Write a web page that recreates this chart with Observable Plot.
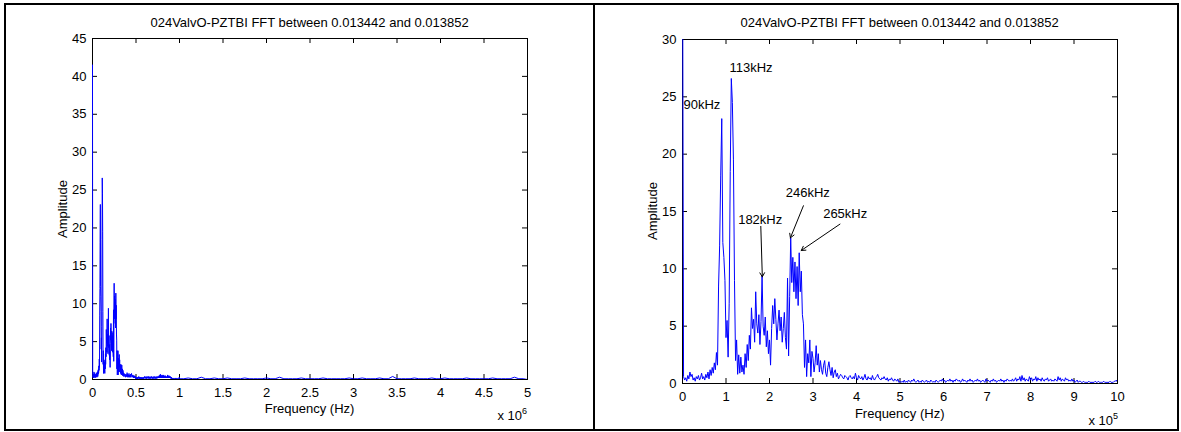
<!DOCTYPE html>
<html><head><meta charset="utf-8">
<script src="https://cdn.jsdelivr.net/npm/d3@7"></script>
<script src="https://cdn.jsdelivr.net/npm/@observablehq/plot@0.6"></script>
<style>
body{margin:0;background:#fff;}
#page{position:relative;width:1181px;height:432px;overflow:hidden;font-family:"Liberation Sans",Arial,Helvetica,sans-serif;background:#fff;color:#000}
.plotwrap{position:absolute;top:0}
.bd{position:absolute;background:#000;z-index:5}
.t{position:absolute;font-size:13px;white-space:nowrap;transform:translate(-50%,-50%);z-index:4}
.exp{position:absolute;font-size:13px;white-space:nowrap;transform:translate(-100%,-50%);z-index:4}
.exp sup{font-size:9px;position:relative;top:-1px}
</style></head><body><div id="page"></div>
<script>
// ---- data ----
const title = "024ValvO-PZTBI FFT between 0.013442 and 0.013852";
const xLabel = "Frequency (Hz)";
const yLabel = "Amplitude";
const binHz = 2439; // FFT bin width (1 / 0.00041 s)
// amplitude per FFT bin, 0 .. 1000 kHz
const ampLow = [
41.5,0.6,0.3,0.5,0.2,0.7,0.4,1.0,0.6,0.8,
0.3,0.5,0.2,0.6,0.4,0.7,0.3,0.5,0.9,0.4,
0.6,0.3,0.8,0.5,1.0,0.4,1.2,0.7,1.4,0.9,
1.8,1.2,2.7,1.6,8.5,12.0,18.1,23.1,12.3,11.0,
9.0,4.0,5.5,2.3,7.0,18.5,26.6,24.5,19.5,9.0,
2.0,3.8,0.8,2.5,0.9,2.3,1.0,1.6,0.8,2.6,
1.4,3.4,2.0,4.2,3.0,6.6,4.8,5.6,3.6,8.0,
5.2,4.4,6.0,3.4,5.4,9.4,5.0,4.2,5.8,3.2,
4.6,2.6,3.8,1.6,4.8,6.8,5.2,7.4,5.6,3.8,
5.2,6.4,4.6,5.8,3.6,4.8,6.2,4.0,3.0,9.2,
2.4,7.6,12.7,8.8,11.0,8.0,10.6,7.4,10.2,6.8,
11.4,8.0,9.8,6.0,5.2,1.4,3.8,0.6,2.6,1.8,
3.8,0.6,2.8,2.2,1.0,1.8,3.3,1.6,2.6,1.0,
2.0,1.2,0.8,1.6,2.0,0.9,0.6,1.4,1.9,1.2,
0.7,1.4,0.5,1.0,1.2,0.6,0.9,0.4,0.6,0.8,
0.7,0.5,0.4,0.7,0.6,0.5,0.3,0.6,0.7,0.5,0.4,
0.6,0.4,0.9,0.5,0.3,0.7,0.5,0.4,0.6,0.3,
0.5,0.8,0.4,0.3,0.6,0.4,0.5,0.3,0.7,0.4,
0.3,0.5,0.6,0.8,0.5,0.4,0.3,0.5,0.4,0.6,
0.4,0.3,0.5,0.2,0.4,0.3,0.5,0.3,0.2,0.4,
0.3,0.2,0.4,0.1,0.2,0.1,0.2,0.1,0.3,0.1,
0.2,0.1,0.3,0.2,0.1,0.3,0.2,0.4,0.2,0.1,
0.2,0.3,0.1,0.2,0.1,0.3,0.2,0.1,0.2,0.3,
0.1,0.2,0.1,0.3,0.2,0.1,0.2,0.1,0.3,0.2,
0.1,0.2,0.3,0.2,0.4,0.2,0.3,0.1,0.2,0.3,
0.2,0.4,0.2,0.3,0.1,0.3,0.2,0.4,0.3,0.2,
0.3,0.1,0.2,0.4,0.2,0.3,0.2,0.1,0.3,0.2,
0.4,0.2,0.3,0.1,0.2,0.3,0.2,0.4,0.2,0.3,
0.1,0.2,0.3,0.2,0.1,0.4,0.2,0.3,0.2,0.1,
0.3,0.2,0.4,0.2,0.3,0.1,0.2,0.3,0.2,0.4,
0.2,0.3,0.1,0.3,0.2,0.4,0.3,0.2,0.3,0.2,
0.4,0.2,0.3,0.5,0.2,0.4,0.3,0.6,0.2,0.7,
0.3,0.5,0.2,0.4,0.3,0.2,0.6,0.3,0.5,0.2,
0.4,0.3,0.6,0.2,0.5,0.3,0.4,0.2,0.5,0.3,
0.2,0.4,0.3,0.5,0.2,0.3,0.4,0.2,0.3,0.2,
0.4,0.3,0.2,0.6,0.3,0.5,0.2,0.4,0.3,0.2,
0.5,0.3,0.4,0.2,0.3,0.2,0.4,0.2,0.3,0.1,
0.2,0.3,0.1,0.2,0.2,0.1,0.1,0.2,0.1,0.1,
0.1,0.1,0.2,0.1,0.1,0.1,0.1,0.1,0.2,0.1,
0.1,0.2,0.1,0.1,0.1,0.1,0.2,0.1,0.1,0.1,
0.1,0.1,0.2,0.1,0.1,0.1,0.2,0.2,0.3,0.1
];
// sparse amplitude samples of the tail, 1.05 .. 5.00 MHz
const tailStartHz = 1050000;
const tailStepHz = 50000;
const ampTail = [
0.1,0.2,0.1,0.1,0.3,0.1,0.1,0.2,0.1,0.1,
0.2,0.1,0.1,0.1,0.2,0.1,0.1,0.1,0.1,0.2,
0.1,0.1,0.3,0.1,0.1,0.1,0.1,0.2,0.1,0.1,
0.1,0.1,0.2,0.1,0.1,0.1,0.1,0.1,0.2,0.1,
0.1,0.2,0.1,0.1,0.1,0.2,0.1,0.1,0.4,0.1,
0.1,0.1,0.1,0.2,0.1,0.1,0.1,0.2,0.1,0.1,
0.2,0.1,0.1,0.1,0.1,0.2,0.1,0.1,0.1,0.1,
0.1,0.2,0.1,0.1,0.1,0.1,0.3,0.1,0.1,0.0
];
// axes ticks
const leftXTicks = [0,500000,1000000,1500000,2000000,2500000,3000000,3500000,4000000,4500000,5000000];
const leftXTickLabels = ["0","0.5","1","1.5","2","2.5","3","3.5","4","4.5","5"];
const leftYTicks = [0,5,10,15,20,25,30,35,40,45];
const rightXTicks = [0,100000,200000,300000,400000,500000,600000,700000,800000,900000,1000000];
const rightXTickLabels = ["0","1","2","3","4","5","6","7","8","9","10"];
const rightYTicks = [0,5,10,15,20,25,30];
const leftExp = "6", rightExp = "5";
// peak annotations (right panel)
const annoText = ["90kHz","113kHz","182kHz","246kHz","265kHz"];
const annoHz =   [2300, 108000, 178600, 288000, 374000];
const annoAmp =  [24.3, 27.55, 14.3, 16.6, 14.8];
const annoAnchor = ["start","start","middle","middle","middle"];
const arrowFromHz = [180000, 278000, 362000];
const arrowFromAmp = [13.7, 15.5, 13.9];
const arrowToHz = [183500, 248000, 273000];
const arrowToAmp = [9.3, 12.7, 11.6];

// ---- build ----
const low = ampLow.map((a, i) => ({f: i * binHz, a}));
const tail = ampTail.map((a, i) => ({f: tailStartHz + i * tailStepHz, a}));
const leftData = low.concat(tail);
const annos = annoText.map((t, i) => ({t, f: annoHz[i], a: annoAmp[i], anchor: annoAnchor[i]}));
const arrows = arrowFromHz.map((d, i) => ({x1: d, y1: arrowFromAmp[i], x2: arrowToHz[i], y2: arrowToAmp[i]}));

const FONT = '"Liberation Sans",Arial,Helvetica,sans-serif';
const BLUE = "#0000ff";

function panel({data, width, height, ml, mr, mt, mb, xDomain, yDomain, xTicks, xLabels, yTicks, extra = []}) {
  const fw = width - ml - mr, fh = height - mt - mb;
  return Plot.plot({
    width, height, marginLeft: ml, marginRight: mr, marginTop: mt, marginBottom: mb,
    style: {fontFamily: FONT, fontSize: "13px", background: "transparent", color: "#000", overflow: "visible"},
    x: {domain: xDomain, label: null},
    y: {domain: yDomain, label: null},
    marks: [
      Plot.frame({stroke: "#000", strokeWidth: 1}),
      Plot.tickX(xTicks, {x: d => d, insetTop: fh - 5, stroke: "#000"}),
      Plot.tickX(xTicks, {x: d => d, insetBottom: fh - 5, stroke: "#000"}),
      Plot.tickY(yTicks, {y: d => d, insetRight: fw - 5, stroke: "#000"}),
      Plot.tickY(yTicks, {y: d => d, insetLeft: fw - 5, stroke: "#000"}),
      Plot.lineY(data, {x: "f", y: "a", stroke: BLUE, strokeWidth: 1, clip: true}),
      ...extra,
      Plot.axisX(xTicks, {tickSize: 0, tickPadding: 8, label: null, tickFormat: d => xLabels[xTicks.indexOf(d)]}),
      Plot.axisY(yTicks, {tickSize: 0, tickPadding: 6, label: null, tickFormat: d => String(d)})
    ]
  });
}

const leftPlot = panel({
  data: leftData, width: 595, height: 432, ml: 92, mr: 68, mt: 38, mb: 53,
  xDomain: [0, 5000000], yDomain: [0, 45], xTicks: leftXTicks, xLabels: leftXTickLabels, yTicks: leftYTicks
});
const rightPlot = panel({
  data: low, width: 586, height: 432, ml: 87, mr: 64, mt: 39, mb: 49,
  xDomain: [0, 1000000], yDomain: [0, 30], xTicks: rightXTicks, xLabels: rightXTickLabels, yTicks: rightYTicks,
  extra: [
    Plot.arrow(arrows, {x1: "x1", y1: "y1", x2: "x2", y2: "y2", stroke: "#000", strokeWidth: 1, headLength: 7}),
    Plot.text(annos.filter(d => d.anchor === "start"), {x: "f", y: "a", text: "t", textAnchor: "start", fill: "#000", fontSize: 13}),
    Plot.text(annos.filter(d => d.anchor === "middle"), {x: "f", y: "a", text: "t", textAnchor: "middle", fill: "#000", fontSize: 13})
  ]
});

const page = document.getElementById("page");
function wrap(node, left, w) {
  const d = document.createElement("div");
  d.className = "plotwrap"; d.style.left = left + "px"; d.style.width = w + "px";
  d.appendChild(node); page.appendChild(d);
}
wrap(leftPlot, 0, 595);
wrap(rightPlot, 595, 586);

function txt(s, x, y, rot) {
  const d = document.createElement("div");
  d.className = "t"; d.textContent = s;
  d.style.left = x + "px"; d.style.top = y + "px";
  if (rot) d.style.transform = "translate(-50%,-50%) rotate(-90deg)";
  page.appendChild(d);
}
txt(title, 309.6, 22); txt(title, 899.7, 22);
txt(xLabel, 309.6, 408); txt(xLabel, 899.7, 413);
txt(yLabel, 62, 209, true); txt(yLabel, 652, 211, true);
function expo(e, x, y) {
  const d = document.createElement("div");
  d.className = "exp"; d.innerHTML = "x 10<sup>" + e + "</sup>";
  d.style.left = x + "px"; d.style.top = y + "px";
  page.appendChild(d);
}
expo(leftExp, 527, 415); expo(rightExp, 1118, 420);

function border(l, t, w, h) {
  const d = document.createElement("div");
  d.className = "bd";
  Object.assign(d.style, {left: l + "px", top: t + "px", width: w + "px", height: h + "px"});
  page.appendChild(d);
}
border(4, 3, 1175, 2);
border(4, 3, 2, 428);
border(593, 3, 2, 428);
border(1177, 3, 2, 428);
border(4, 429, 1175, 2);
</script></body></html>
